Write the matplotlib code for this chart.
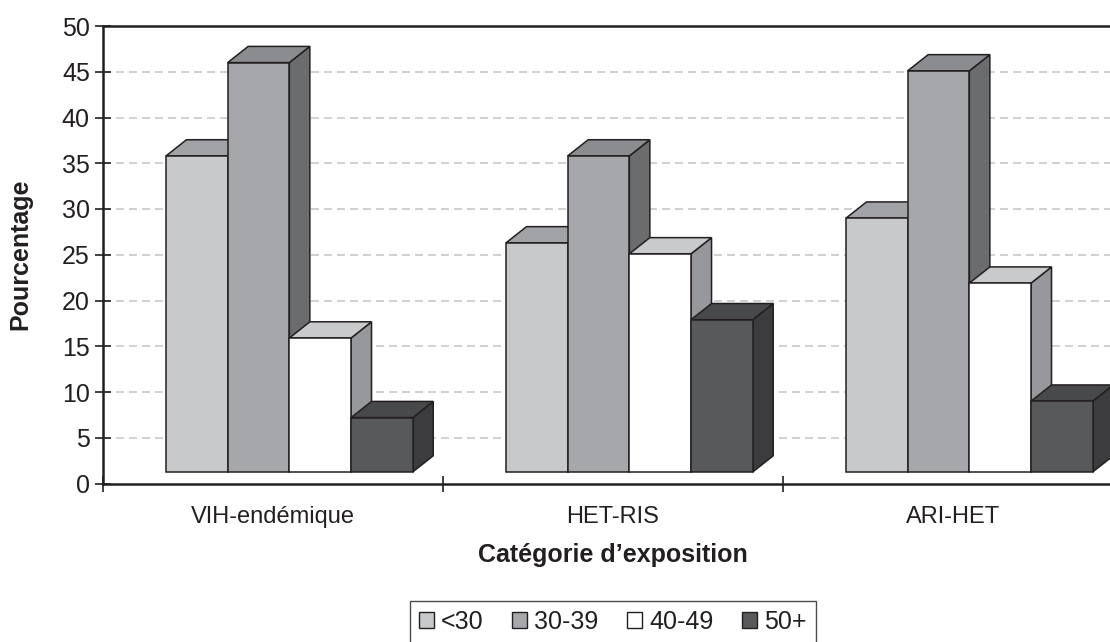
import matplotlib
matplotlib.use('Agg')
import matplotlib.pyplot as plt
from matplotlib.patches import Polygon, Patch

plt.rcParams['font.family'] = ['Liberation Sans', 'DejaVu Sans']

# Data (percent)
categories = ['VIH-endémique', 'HET-RIS', 'ARI-HET']
age_groups = ['<30', '30-39', '40-49', '50+']
values = {
    '<30':   [35.8, 26.3, 29.0],
    '30-39': [46.0, 35.8, 45.1],
    '40-49': [15.9, 25.1, 21.9],
    '50+':   [7.2, 17.9, 9.0],
}
y_ticks = list(range(0, 51, 5))

# face colours: front, top, side
front_colors = ['#c8c9cb', '#a6a7aa', '#ffffff', '#58595b']
top_colors = ['#a2a3a6', '#8b8c8f', '#c9cacc', '#48494b']
side_colors = ['#8e8f92', '#6b6c6e', '#97989b', '#3c3c3e']
edge = '#231f20'

# 3D look (data units)
bar_w = 0.1814
group_off = 0.1853
depth_x = 0.0603
depth_y = 1.77
base = 1.26

fig = plt.figure(figsize=(11.1, 6.42), dpi=100, facecolor='white')
ax = fig.add_axes([103 / 1110, (642 - 483.5) / 642, (1123 - 103) / 1110, (483.5 - 26) / 642])
ax.set_xlim(0, len(categories))
ax.set_ylim(0, 50)

# dashed gridlines
for t in y_ticks[1:-1]:
    ax.axhline(t, color='#c8c8c8', lw=1.2, ls=(0, (4.8, 3)), zorder=1)

z = 3
for ci in range(len(categories)):
    for gi, g in enumerate(age_groups):
        v = values[g][ci]
        x0 = ci + group_off + gi * bar_w
        x1 = x0 + bar_w
        front = [(x0, base), (x1, base), (x1, v), (x0, v)]
        side = [(x1, base), (x1 + depth_x, base + depth_y), (x1 + depth_x, v + depth_y), (x1, v)]
        top = [(x0, v), (x1, v), (x1 + depth_x, v + depth_y), (x0 + depth_x, v + depth_y)]
        for pts, col in ((side, side_colors[gi]), (top, top_colors[gi]), (front, front_colors[gi])):
            ax.add_patch(Polygon(pts, closed=True, facecolor=col, edgecolor=edge,
                                 lw=1.1, joinstyle='miter', zorder=z))
            z += 1

# spines
for s in ax.spines.values():
    s.set_color(edge)
    s.set_linewidth(1.8)
    s.set_zorder(100)

ax.set_yticks(y_ticks)
ax.set_yticklabels([str(t) for t in y_ticks])
ax.tick_params(axis='y', direction='inout', length=11, width=1.2, color=edge,
               labelsize=18, labelcolor=edge, pad=4)

ax.set_xticks(range(len(categories) + 1))
ax.set_xticklabels([])
ax.set_xticks([i + 0.5 for i in range(len(categories))], minor=True)
ax.set_xticklabels(categories, minor=True)
ax.tick_params(axis='x', which='major', direction='inout', length=12, width=1.2, color=edge)
ax.tick_params(axis='x', which='minor', length=0, labelsize=17, labelcolor=edge, pad=16)

ax.text(0.5, (483.5 - 555) / 457.5, 'Catégorie d’exposition', transform=ax.transAxes,
        ha='center', va='center', fontsize=18, fontweight='bold', color=edge)
ax.text(-(103 - 20) / 1020, 0.5, 'Pourcentage', transform=ax.transAxes, rotation=90,
        ha='center', va='center', fontsize=18, fontweight='bold', color=edge)

handles = [Patch(facecolor=front_colors[i], edgecolor=edge, lw=1.0) for i in range(len(age_groups))]
leg = fig.legend(handles, age_groups, loc='upper center', bbox_to_anchor=(613 / 1110, 1 - 601 / 642),
                 ncol=4, fontsize=18, frameon=True, fancybox=False, handlelength=0.58,
                 handleheight=0.58, handletextpad=0.3, columnspacing=1.15, borderpad=0.35,
                 borderaxespad=0, labelcolor=edge)
leg.get_frame().set_edgecolor(edge)
leg.get_frame().set_linewidth(1.0)

plt.savefig('out.png', dpi=100, facecolor='white')
